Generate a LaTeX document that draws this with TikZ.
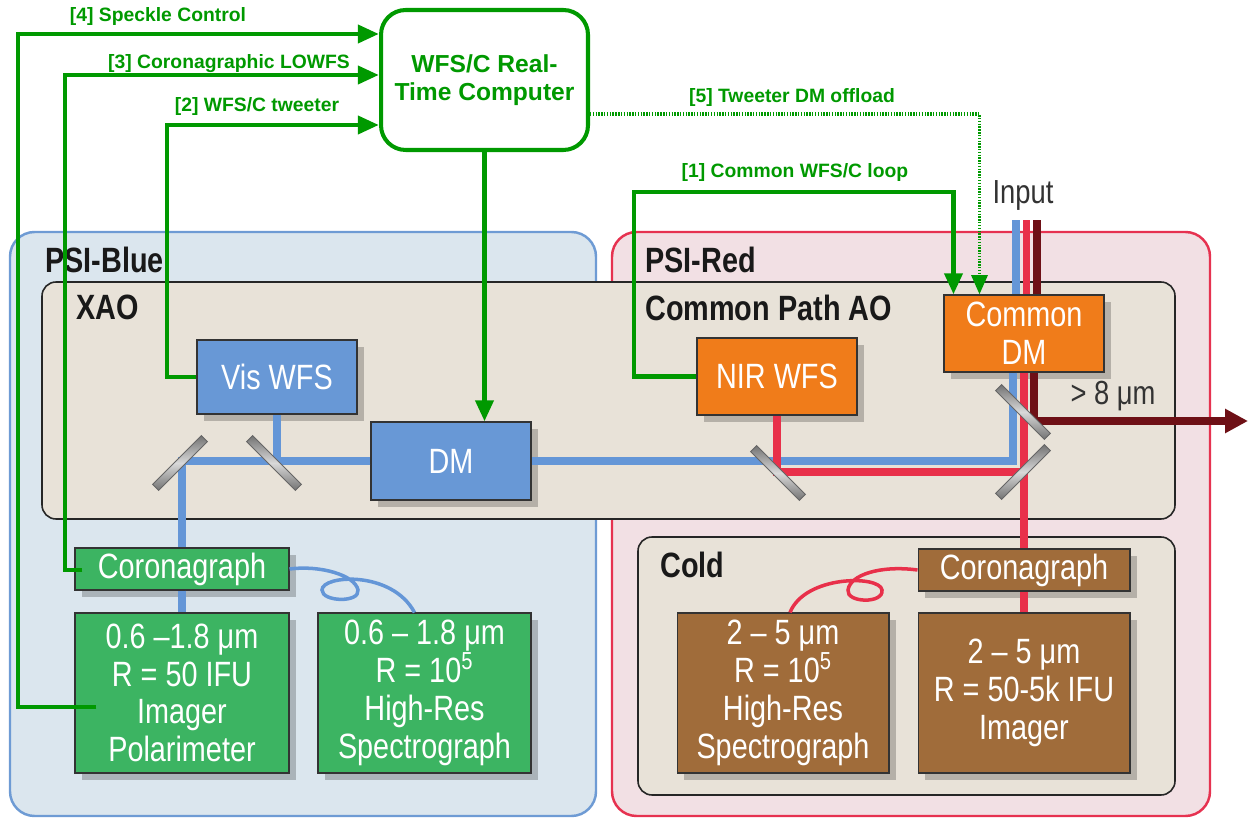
\documentclass[tikz,border=0pt]{standalone}
\usepackage{fontspec}
\setmainfont{Liberation Sans}
\newfontfamily\condfont[FakeStretch=0.82]{Liberation Sans}
\usetikzlibrary{arrows.meta,calc,shadows}

\definecolor{ctrlgreen}{RGB}{0,153,0}
\definecolor{bluebox}{RGB}{104,152,214}
\definecolor{orangebox}{RGB}{240,124,26}
\definecolor{greenbox}{RGB}{60,180,98}
\definecolor{brownbox}{RGB}{160,108,58}
\definecolor{beamblue}{RGB}{100,150,215}
\definecolor{beamred}{RGB}{232,48,74}
\definecolor{beamdark}{RGB}{110,16,22}
\definecolor{psibluefill}{RGB}{219,230,238}
\definecolor{psiblueline}{RGB}{110,155,212}
\definecolor{psiredfill}{RGB}{242,224,228}
\definecolor{psiredline}{RGB}{230,50,80}
\definecolor{benchfill}{RGB}{232,226,216}

\begin{document}
\begin{tikzpicture}[x=0.02cm, y=-0.02cm,
  box/.style={draw=black!80, line width=0.6pt, text=white, align=center,
    font=\condfont\fontsize{20}{21.5}\selectfont, inner sep=0pt,
    drop shadow={opacity=0.22, shadow xshift=4pt, shadow yshift=-4pt, fill=black}},
  wfsbox/.style={box, fill=bluebox, minimum width=3.2cm},
  nirbox/.style={box, fill=orangebox, minimum width=3.2cm},
  visinst/.style={box, fill=greenbox},
  irinst/.style={box, fill=brownbox},
  head/.style={anchor=west, inner sep=0pt, text=black!90,
    font=\condfont\bfseries\fontsize{20}{22}\selectfont},
  ctrl/.style={draw=ctrlgreen, line width=2.8pt,
    -{Triangle[length=12pt, width=10pt]}},
  ctrldots/.style={draw=ctrlgreen, line width=2pt,
    dash pattern=on 0.8pt off 0.8pt, -{Triangle[length=11pt, width=9pt]}},
  ctrllabel/.style={text=ctrlgreen, font=\bfseries\fontsize{11}{13}\selectfont},
  bluebeam/.style={draw=beamblue, line width=4.5pt},
  redbeam/.style={draw=beamred, line width=4.5pt},
  darkbeam/.style={draw=beamdark, line width=4.5pt},
  fiber/.style={line width=2pt},
  mirror/.style={draw=black!60, top color=black!55, bottom color=black!55,
    middle color=black!15, minimum width=1.38cm, minimum height=0.17cm,
    inner sep=0pt, line width=0.5pt},
  note/.style={text=black!80, font=\condfont\fontsize{19}{21}\selectfont},
]
\useasboundingbox (0,0) rectangle (1248,820);

% instrument enclosures
\draw[fill=psibluefill, draw=psiblueline, line width=1.4pt, rounded corners=14pt]
  (10,232) rectangle (596,816);
\draw[fill=psiredfill, draw=psiredline, line width=1.4pt, rounded corners=14pt]
  (612,232) rectangle (1210,816);
\draw[fill=benchfill, draw=black!85, line width=0.9pt, rounded corners=8pt]
  (42,282) rectangle (1175,519);
\draw[fill=benchfill, draw=black!85, line width=0.9pt, rounded corners=8pt]
  (638,537) rectangle (1175,795);

\node[head] (psiblue) at (45,260) {PSI-Blue};
\node[head] (xao) at (76,307) {XAO};
\node[head] (psired) at (645,260) {PSI-Red};
\node[head] (cpao) at (645,308) {Common Path AO};
\node[head] (cold) at (660,565) {Cold};

% light paths
\coordinate (cdmtop) at (1024,295.5);
\foreach \dx/\beam in {-8/bluebeam, 2.5/redbeam, 13/darkbeam}
  \draw[\beam] ($(cdmtop)+(\dx,0)$) -- ++(0,-75);
\node[note] (input) at (1023,195) {Input};
\coordinate (out) at (1248,421);
\coordinate (split) at (1023,472);

% optical components
\node[wfsbox, minimum height=1.48cm] at (277,377) (viswfs) {Vis WFS};
\node[wfsbox, minimum height=1.56cm] at (451,461) (dm) {DM};
\node[nirbox, minimum height=1.54cm] at (777,376.5) (nirwfs) {NIR WFS};
\node[nirbox, minimum height=1.54cm] at (1024,333.5) (cdm) {Common\\DM};

\node[visinst, minimum width=4.28cm, minimum height=0.84cm] at (182,569) (corblue) {Coronagraph};
\node[visinst, minimum width=4.28cm, minimum height=3.2cm] at (182,693) (imgpol)
  {0.6 –1.8 μm\\R = 50 IFU\\Imager\\Polarimeter};
\node[visinst, minimum width=4.26cm, minimum height=3.2cm] at (424.5,693) (hires)
  {0.6 – 1.8 μm\\R = 10\textsuperscript{5}\\High-Res\\Spectrograph};
\node[irinst, minimum width=4.24cm, minimum height=0.84cm] at (1024,570) (corred) {Coronagraph};
\node[irinst, minimum width=4.24cm, minimum height=3.2cm] at (783,693) (hiresred)
  {2 – 5 μm\\R = 10\textsuperscript{5}\\High-Res\\Spectrograph};
\node[irinst, minimum width=4.24cm, minimum height=3.2cm] at (1024,693) (ifured)
  {2 – 5 μm\\R = 50-5k IFU\\Imager};

\draw[bluebeam] ($(cdm.south)+(-11,0)$) |- (dm.east);
\draw[bluebeam] (dm.west) -| (corblue.north);
\draw[bluebeam] (viswfs.south) -- (viswfs.south |- dm.west);
\draw[bluebeam] (corblue.south) -- (imgpol.north);
\draw[redbeam] (nirwfs.south) |- (split);
\draw[redbeam] (cdm.south) -- (corred.north);
\draw[redbeam] (corred.south) -- (ifured.north);
\draw[darkbeam, -{Triangle[length=13pt, width=13pt]}] ($(cdm.south)+(10,0)$) |- (out);
\node[note] (ir) at (1113,396) {> 8 μm};

% fibre feeds
\draw[fiber, beamblue] (corblue.east) .. controls (320,565) and (355,575) .. (358,590)
  .. controls (360,603) and (322,602) .. (322,590)
  .. controls (322,575) and (392,570) .. ($(hires.north)+(-10,0)$);
\draw[fiber, beamred] (corred.west) .. controls (880,565) and (850,575) .. (848,590)
  .. controls (846,603) and (884,604) .. (882,590)
  .. controls (880,575) and (805,575) .. ($(hiresred.north)+(7,0)$);

% fold mirrors and beam splitters
\node[mirror, rotate=45] at (180,463) (m1) {};
\node[mirror, rotate=-45] at (274,463) (m2) {};
\node[mirror, rotate=-45] at (778,473) (m3) {};
\node[mirror, rotate=45] at (split) (m4) {};
\node[mirror, rotate=-45] at (1023,412) (m5) {};

% control computer and loops
\node[draw=ctrlgreen, line width=2.3pt, rounded corners=14pt, fill=white,
  minimum width=4.14cm, minimum height=2.8cm, align=center, text=ctrlgreen,
  font=\bfseries\fontsize{14}{16}\selectfont] at (484.5,80) (comp)
  {WFS/C Real-\\Time Computer};

\coordinate (k4) at (18,34);
\coordinate (k3) at (65,75);
\coordinate (k2) at (167,125);
\coordinate (k1) at (634,192);

\draw[ctrl] ($(imgpol.west)+(22,14)$) -| (k4) -- (comp.west |- k4);
\draw[ctrl] ($(corblue.west)+(8,1)$) -| (k3) -- (comp.west |- k3);
\draw[ctrl] (viswfs.west) -| (k2) -- (comp.west |- k2);
\draw[ctrl] (comp.south) -- (comp.south |- dm.north);
\draw[ctrl] (nirwfs.west) -| (k1) -| ($(cdm.north west)+(10,0)$);
\draw[ctrldots] ($(comp.east)+(0,34)$) -| ($(cdm.north west)+(36,0)$);

\node[ctrllabel] (l4) at (158,17) {[4] Speckle Control};
\node[ctrllabel] (l3) at (229,64) {[3] Coronagraphic LOWFS};
\node[ctrllabel] (l2) at (257,107) {[2] WFS/C tweeter};
\node[ctrllabel] (l1) at (795,173) {[1] Common WFS/C loop};
\node[ctrllabel] (l5) at (792,98) {[5] Tweeter DM offload};
\end{tikzpicture}
\end{document}
